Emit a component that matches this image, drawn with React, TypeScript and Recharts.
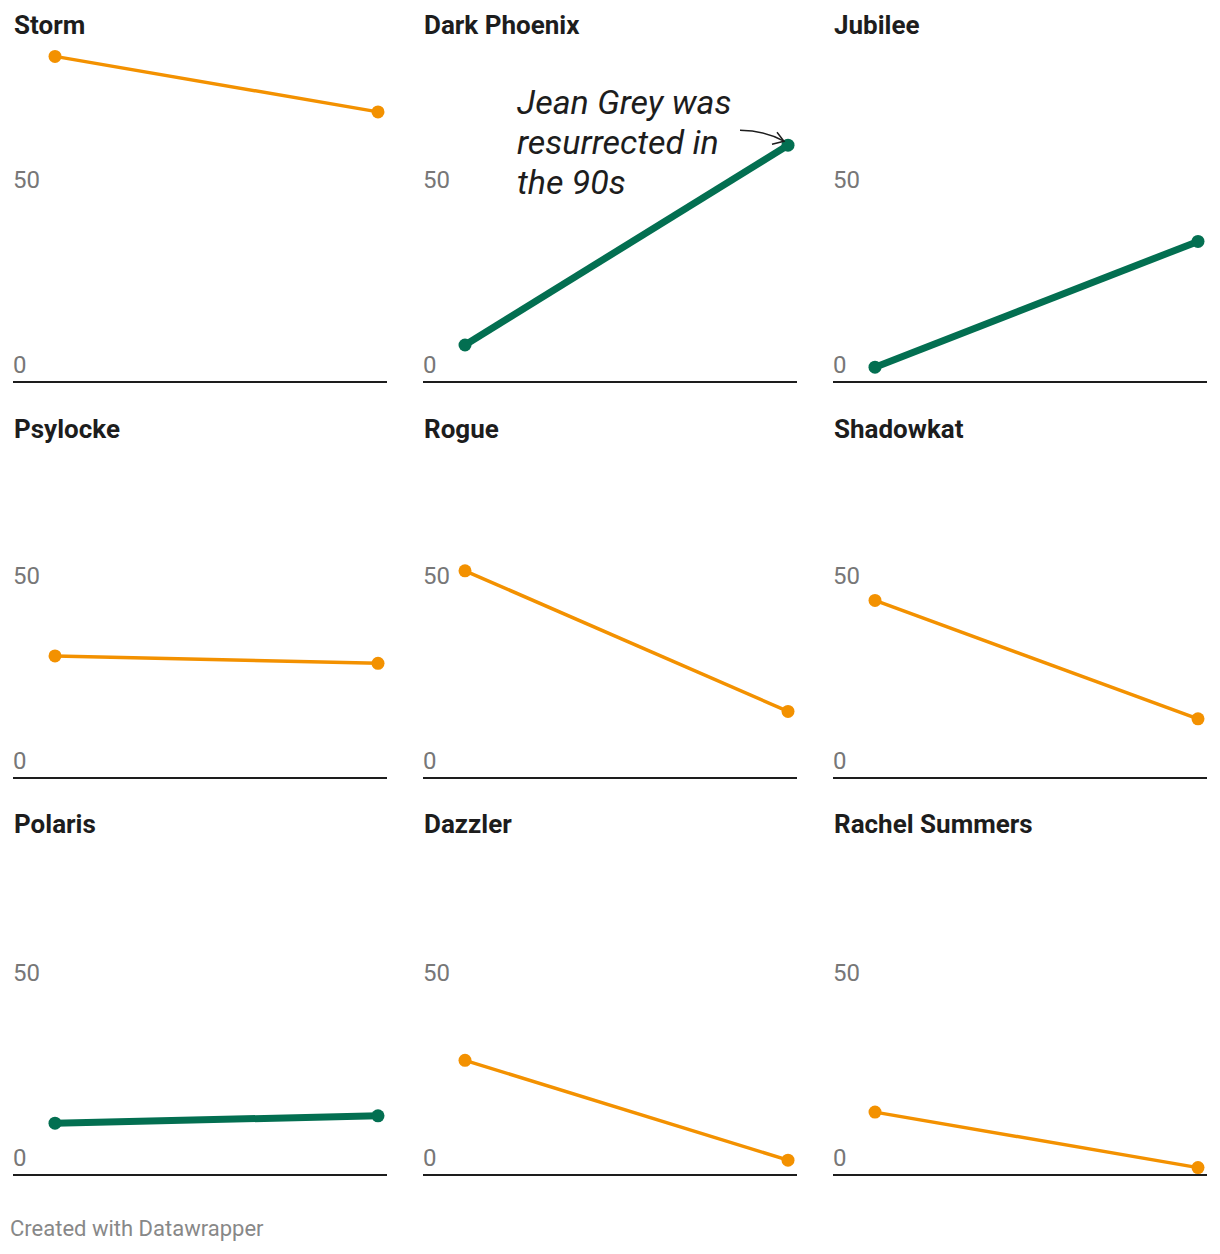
import { LineChart, Line, XAxis, YAxis, ReferenceDot } from 'recharts';

const periods = ['1980s', '1990s'];
const characters = [
  'Storm', 'Dark Phoenix', 'Jubilee',
  'Psylocke', 'Rogue', 'Shadowkat',
  'Polaris', 'Dazzler', 'Rachel Summers',
];
const firstValues = [88, 10, 4, 33, 56, 48, 14, 31, 17];
const secondValues = [73, 64, 38, 31, 18, 16, 16, 4, 2];
const yTicks = [0, 50];
const annotationLines = ['Jean Grey was', 'resurrected in', 'the 90s'];
const annotatedCharacter = 'Dark Phoenix';
const footerText = 'Created with Datawrapper';

const ORANGE = '#f39100';
const GREEN = '#036f51';
const FONT = 'Roboto, sans-serif';

const PANEL_W = 374;
const PLOT_H = 370;
const colX = [13, 423, 833];
const rowBase = [381.5, 777.7, 1175];
const titleBase = [34, 437.7, 833.3];

// y-axis labels sit above their (hidden) gridlines, flush with the panel's left edge
const renderYTick = (props: any) => (
  <text
    key={props.payload.value}
    x={1}
    y={props.y - 9}
    fill="#777"
    fontSize={24}
    fontFamily={FONT}
    textAnchor="start"
  >
    {props.payload.value}
  </text>
);

const Annotation = (props: any) => {
  const { cx, cy } = props;
  return (
    <g>
      {annotationLines.map((t, i) => (
        <text
          key={t}
          x={cx - 271}
          y={cy - 31.7 + i * 40}
          fontSize={34}
          fontStyle="italic"
          fontFamily={FONT}
          fill="#1d1d1d"
        >
          {t}
        </text>
      ))}
      <path
        d={`M ${cx - 48} ${cy - 15} Q ${cx - 24} ${cy - 15} ${cx - 4} ${cy - 4}`}
        fill="none"
        stroke="#1d1d1d"
        strokeWidth={1.5}
      />
      <path
        d={`M ${cx - 11} ${cy - 13} L ${cx - 4} ${cy - 4} L ${cx - 16} ${cy - 1}`}
        fill="none"
        stroke="#1d1d1d"
        strokeWidth={1.5}
      />
    </g>
  );
};

const Panel = ({ index }: { index: number }) => {
  const name = characters[index];
  const row = Math.floor(index / 3);
  const col = index % 3;
  const data = periods.map((p, i) => ({
    period: p,
    value: i === 0 ? firstValues[index] : secondValues[index],
  }));
  const rising = secondValues[index] > firstValues[index];
  const color = rising ? GREEN : ORANGE;
  const top = rowBase[row] - PLOT_H;

  return (
    <>
      <div
        style={{
          position: 'absolute',
          left: colX[col] + 1,
          top: titleBase[row] - 22,
          fontFamily: FONT,
          fontWeight: 700,
          fontSize: 26,
          lineHeight: '26px',
          color: '#1d1d1d',
          whiteSpace: 'nowrap',
        }}
      >
        {name}
      </div>
      <div style={{ position: 'absolute', left: colX[col] - 1, top }}>
        <LineChart
          width={PANEL_W + 1}
          height={PLOT_H + 2}
          data={data}
          margin={{ top: 0, right: 0, bottom: 0, left: 0 }}
        >
          <XAxis
            dataKey="period"
            tick={false}
            tickLine={false}
            height={2}
            padding={{ left: 42, right: 9 }}
            axisLine={{ stroke: '#1d1d1d', strokeWidth: 2 }}
          />
          <YAxis
            width={1}
            domain={[0, 100]}
            ticks={yTicks}
            axisLine={false}
            tickLine={false}
            tick={renderYTick}
            interval={0}
          />
          <Line
            dataKey="value"
            stroke={color}
            strokeWidth={rising ? 7 : 3.5}
            dot={{ r: 6.5, fill: color, stroke: color, strokeWidth: 0 }}
            activeDot={false}
            isAnimationActive={false}
          />
          {name === annotatedCharacter && (
            <ReferenceDot
              x={periods[1]}
              y={secondValues[index]}
              r={0}
              shape={(p: any) => <Annotation {...p} />}
            />
          )}
        </LineChart>
      </div>
    </>
  );
};

export default function App() {
  return (
    <div
      style={{
        position: 'absolute',
        left: 0,
        top: 0,
        width: 1220,
        height: 1254,
        background: '#fff',
      }}
    >
      {characters.map((c, i) => (
        <Panel key={c} index={i} />
      ))}
      <div
        style={{
          position: 'absolute',
          left: 10,
          top: 1217.5,
          fontFamily: FONT,
          fontSize: 22,
          lineHeight: '22px',
          color: '#888',
          whiteSpace: 'nowrap',
        }}
      >
        {footerText}
      </div>
    </div>
  );
}
